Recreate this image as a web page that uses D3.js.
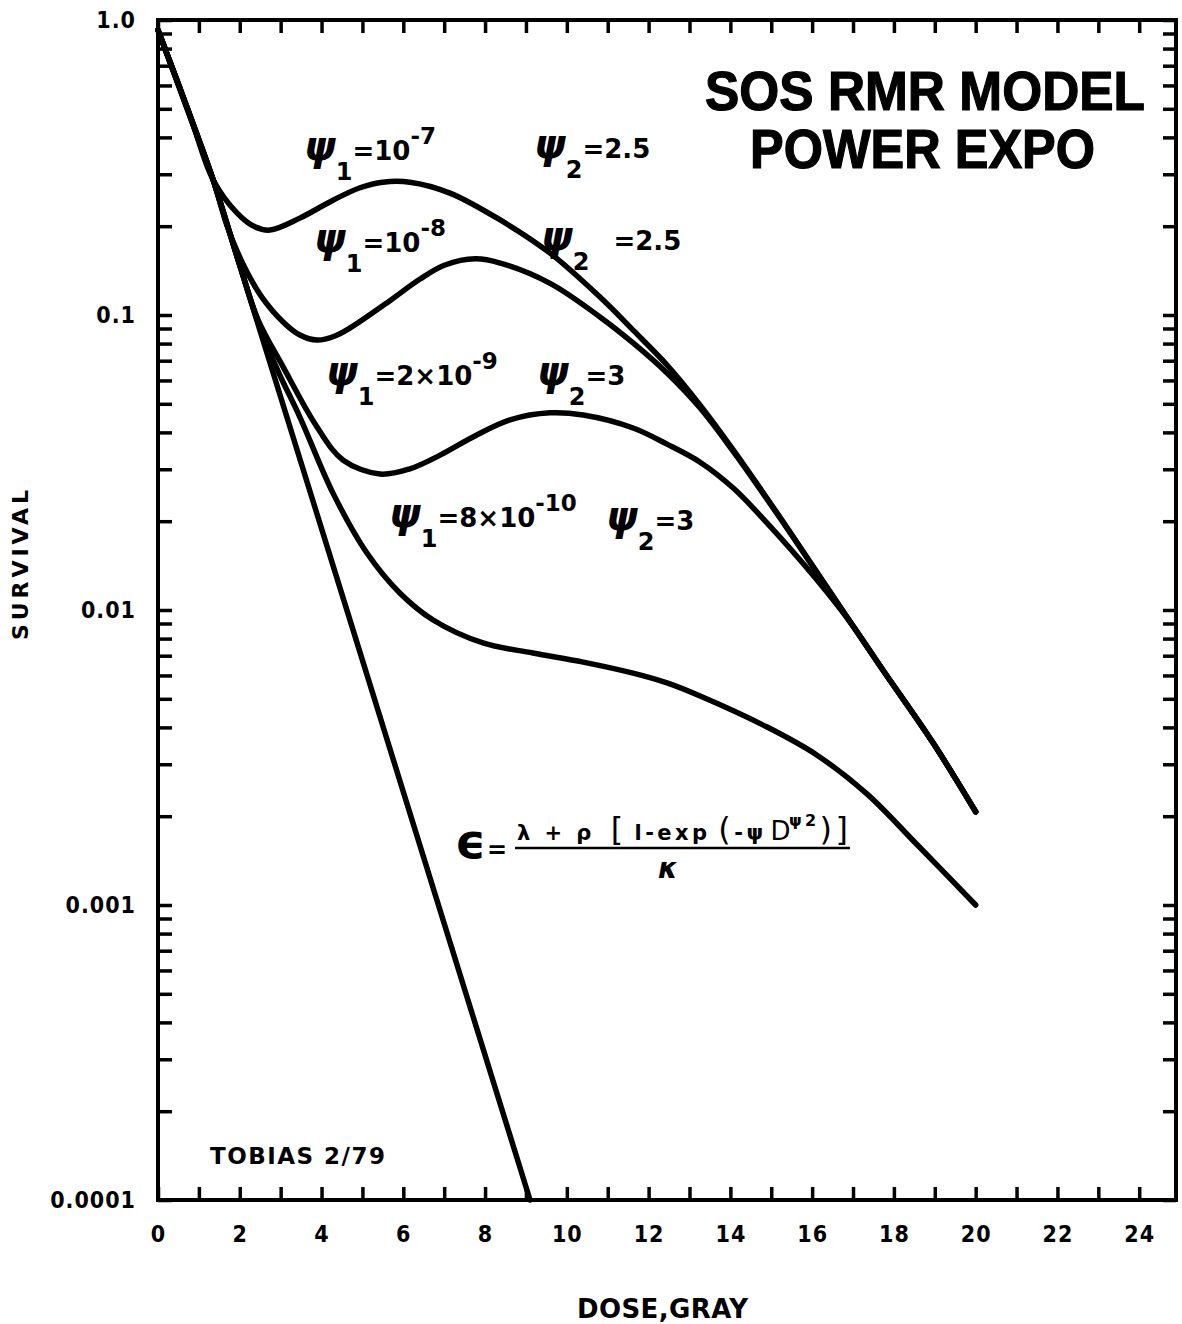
<!DOCTYPE html>
<html><head><meta charset="utf-8">
<script src="https://cdn.jsdelivr.net/npm/d3@7"></script>
<style>body{margin:0;background:#fff}svg{display:block}</style>
</head><body><svg id="c" width="1182" height="1324"></svg>
<script>
// ---------------- data ----------------
const doseTickValues = d3.range(0, 25);
const doseTickLabels = ["0","2","4","6","8","10","12","14","16","18","20","22","24"];
const survMajorTicks = [1, 0.1, 0.01, 0.001, 0.0001];
const survTickLabels = ["1.0","0.1","0.01","0.001","0.0001"];

// straight exponential curve
const expDose = [0, 1.35, 4.7, 9.1];
const expSurv = [0.925, 0.287, 0.0092, 0.0001];

// psi1 = 1e-7, psi2 = 2.5
const c1Dose = [0,0.78,1.35,1.93,2.37,2.74,3.47,4.28,4.94,5.50,6.16,7.14,8.37,9.59,10.81,11.62,12.45,13.26,14.07,15.29,16.51,17.73,18.96,20];
const c1Surv = [0.925,0.476,0.287,0.222,0.199,0.194,0.213,0.245,0.270,0.282,0.282,0.259,0.210,0.162,0.115,0.0889,0.0677,0.0495,0.0349,0.0199,0.01115,0.00626,0.00354,0.00207];

// psi1 = 1e-8, psi2 = 2.5
const c2Dose = [0,0.78,1.35,1.71,2.13,2.54,3.06,3.47,3.89,4.33,4.70,5.68,6.41,7.02,7.76,8.37,9.59,10.81,11.62,12.45,13.26,14.07,15.29,16.51,17.73,18.96,20];
const c2Surv = [0.925,0.476,0.287,0.197,0.144,0.115,0.0947,0.0855,0.0822,0.0849,0.0904,0.112,0.1324,0.1477,0.155,0.150,0.128,0.0985,0.0804,0.0636,0.0484,0.0345,0.0198,0.0111,0.00626,0.00354,0.00207];

// psi1 = 2e-9, psi2 = 3
const c3Dose = [0,0.78,1.35,2.01,2.45,3.06,3.89,4.53,5.43,6.16,6.90,7.75,8.61,9.59,10.40,11.62,12.45,13.26,14.07,14.90,16.12,16.93,17.73,18.96,20];
const c3Surv = [0.925,0.476,0.287,0.146,0.0962,0.0667,0.0417,0.0322,0.0289,0.0301,0.0335,0.0389,0.0441,0.0466,0.0458,0.0414,0.0365,0.0317,0.0259,0.0197,0.01264,0.0091,0.00626,0.00354,0.00207];

// psi1 = 8e-10, psi2 = 3
const c4Dose = [0,0.78,1.35,2.01,2.54,2.98,3.47,4.28,5.11,5.92,6.73,7.95,9.17,10.40,11.62,12.45,13.26,14.90,16.12,17.34,18.57,20];
const c4Surv = [0.925,0.476,0.287,0.146,0.0869,0.0626,0.0451,0.0249,0.0156,0.0114,0.00925,0.00773,0.00715,0.00666,0.00611,0.00566,0.00511,0.00401,0.00322,0.00238,0.00160,0.00100];

// ---------------- chart ----------------
const svg = d3.select("#c");
svg.append("rect").attr("width",1182).attr("height",1324).attr("fill","#fff");

const L = 158, R = 1176, T = 20, B = 1200;
const x = d3.scaleLinear().domain([0, 24.9]).range([L, R]);
const y = d3.scaleLog().domain([1e-4, 1]).range([B, T]);

const survTicks = [];
for (let n = -4; n <= -1; n++) for (let k = 1; k <= 9; k++) survTicks.push(+(k * Math.pow(10, n)).toPrecision(3));
survTicks.push(1);

const numFont = "'DejaVu Sans', sans-serif";
const plainFont = "'DejaVu Sans', sans-serif";

function styleAxis(g, sw) {
  g.select(".domain").remove();
  g.selectAll(".tick line").attr("stroke","#000").attr("stroke-width",sw);
  g.selectAll(".tick text").attr("fill","#000").attr("font-family",numFont)
    .attr("font-weight","bold").attr("font-size",23).attr("font-stretch","condensed").attr("letter-spacing",1);
}

// bottom
const xb = svg.append("g").attr("transform",`translate(0,${B})`)
  .call(d3.axisBottom(x).tickValues(doseTickValues).tickSize(-13).tickPadding(26)
    .tickFormat(d => d % 2 === 0 ? doseTickLabels[d/2] : ""));
styleAxis(xb, 3.5);
// top
const xt = svg.append("g").attr("transform",`translate(0,${T})`)
  .call(d3.axisTop(x).tickValues(doseTickValues).tickSize(-13).tickFormat(""));
styleAxis(xt, 3.5);
// left
const yl = svg.append("g").attr("transform",`translate(${L},0)`)
  .call(d3.axisLeft(y).tickValues(survTicks).tickSize(-14).tickPadding(22)
    .tickFormat(d => { const i = survMajorTicks.indexOf(d); return i >= 0 ? survTickLabels[i] : ""; }));
styleAxis(yl, 3.5);
// right
const yr = svg.append("g").attr("transform",`translate(${R},0)`)
  .call(d3.axisRight(y).tickValues(survTicks).tickSize(-13).tickFormat(""));
styleAxis(yr, 3.5);

// frame
svg.append("rect").attr("x",L).attr("y",T).attr("width",R-L).attr("height",B-T)
  .attr("fill","none").attr("stroke","#000").attr("stroke-width",4);

// curves
const lineSmooth = d3.line().x(d => x(d[0])).y(d => y(d[1])).curve(d3.curveCatmullRom.alpha(0.5));
const lineStraight = d3.line().x(d => x(d[0])).y(d => y(d[1]));
const zipp = (a, b) => a.map((v, i) => [v, b[i]]);
const gc = svg.append("g").attr("fill","none").attr("stroke","#000").attr("stroke-width",5.5)
  .attr("stroke-linecap","round").attr("stroke-linejoin","round");
gc.append("path").attr("d", lineStraight(zipp(expDose, expSurv)));
[[c1Dose,c1Surv],[c2Dose,c2Surv],[c3Dose,c3Surv],[c4Dose,c4Surv]].forEach(([a,b]) =>
  gc.append("path").attr("d", lineSmooth(zipp(a, b))));

// axis titles
svg.append("text").attr("x",577).attr("y",1318).attr("textLength",171).attr("lengthAdjust","spacing")
  .attr("font-family",numFont).attr("font-weight","bold").attr("font-size",26).text("DOSE,GRAY");
svg.append("text").attr("transform","translate(28,640) rotate(-90)").attr("textLength",150).attr("lengthAdjust","spacing")
  .attr("font-family",numFont).attr("font-weight","bold").attr("font-size",22).text("SURVIVAL");

// title
const titleFont = "'Liberation Sans', Arial, sans-serif";
svg.append("text").attr("x",705).attr("y",110).attr("textLength",440).attr("lengthAdjust","spacingAndGlyphs")
  .attr("font-family",titleFont).attr("font-weight","bold").attr("font-size",55)
  .attr("stroke","#000").attr("stroke-width",1.2).text("SOS RMR MODEL");
svg.append("text").attr("x",750).attr("y",168).attr("textLength",345).attr("lengthAdjust","spacingAndGlyphs")
  .attr("font-family",titleFont).attr("font-weight","bold").attr("font-size",55)
  .attr("stroke","#000").attr("stroke-width",1.2).text("POWER EXPO");

// credit
svg.append("text").attr("x",210).attr("y",1164).attr("textLength",175).attr("lengthAdjust","spacing")
  .attr("font-family",numFont).attr("font-weight","bold").attr("font-size",23).text("TOBIAS 2/79");

// psi labels
function psiLabel(px, py, sub, main, dxMain, sup) {
  const t = svg.append("text").attr("x",px).attr("y",py).attr("font-family",numFont).attr("font-weight","bold");
  t.append("tspan").attr("font-family",plainFont).attr("font-style","italic").attr("font-size",40).text("ψ");
  t.append("tspan").attr("font-size",24).attr("dy",20).text(sub);
  t.append("tspan").attr("font-size",26).attr("dx",dxMain).attr("dy",-20).text(main);
  if (sup) t.append("tspan").attr("font-size",23).attr("dy",-16).text(sup);
}
psiLabel(304,160,"1","=10",0,"-7");
psiLabel(534,158,"2","=2.5",0,null);
psiLabel(314,252,"1","=10",0,"-8");
psiLabel(541,250,"2","=2.5",24,null);
psiLabel(326,385,"1","=2×10",0,"-9");
psiLabel(537,385,"2","=3",0,null);
psiLabel(389,527,"1","=8×10",0,"-10");
psiLabel(606,530,"2","=3",0,null);

// formula
svg.append("text").attr("x",455).attr("y",858).attr("font-family",plainFont).attr("font-weight","bold")
  .attr("font-size",48).text("ϵ");
svg.append("text").attr("x",487).attr("y",858).attr("font-family",plainFont).attr("font-weight","bold")
  .attr("font-size",24).text("=");
const num = svg.append("text").attr("x",517).attr("y",840).attr("font-family",plainFont).attr("font-weight","bold")
  .attr("font-size",21).attr("textLength",331).attr("lengthAdjust","spacing");
num.append("tspan").text("λ + ρ");
num.append("tspan").attr("dx",16).attr("font-size",32).attr("font-weight","normal").text("[");
num.append("tspan").attr("dx",8).text("l-exp");
num.append("tspan").attr("dx",8).attr("font-size",32).attr("font-weight","normal").text("(");
num.append("tspan").text("-ψ");
num.append("tspan").attr("dx",4).attr("font-weight","normal").attr("font-size",26).text("D");
num.append("tspan").attr("font-size",16).attr("dx",-5).attr("dy",-14).text("ψ2");
num.append("tspan").attr("font-size",32).attr("font-weight","normal").attr("dy",14).text(")]");
svg.append("line").attr("x1",515).attr("x2",850).attr("y1",848).attr("y2",848).attr("stroke","#000").attr("stroke-width",2.5);
svg.append("text").attr("x",668).attr("y",878).attr("text-anchor","middle").attr("font-family",plainFont)
  .attr("font-weight","bold").attr("font-style","italic").attr("font-size",28).text("κ");
</script></body></html>
